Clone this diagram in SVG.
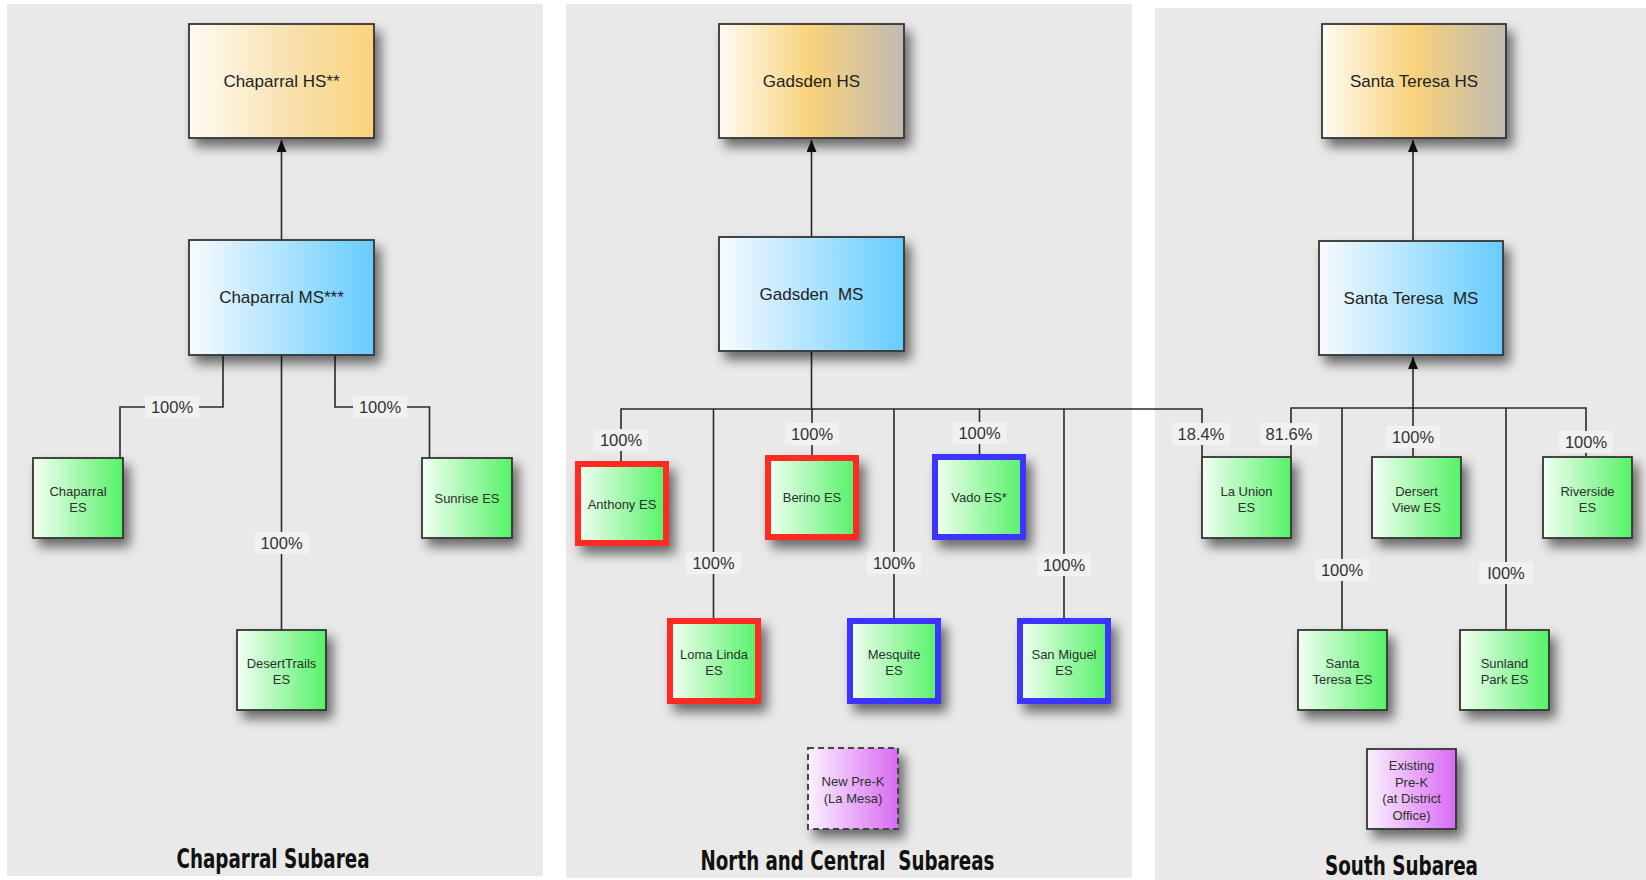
<svg xmlns="http://www.w3.org/2000/svg" width="1646" height="880" viewBox="0 0 1646 880">
<defs>
<style>
.panel{fill:#e9e9e9}
.box{stroke:#333;stroke-width:1.8;filter:url(#sh)}
.red{stroke:#ff2a24;stroke-width:6;filter:url(#sh)}
.blue{stroke:#3d35ff;stroke-width:6;filter:url(#sh)}
.dash{stroke:#444;stroke-width:2;stroke-dasharray:6 4;filter:url(#sh)}
.big{font-family:"Liberation Sans",Arial,sans-serif;font-size:17px;fill:#222;text-anchor:middle;white-space:pre}
.sm{font-family:"Liberation Sans",Arial,sans-serif;font-size:13px;fill:#2a332a;text-anchor:middle;white-space:pre}
.lbl{font-family:"Liberation Sans",Arial,sans-serif;font-size:16.5px;fill:#333;text-anchor:middle}
.lbg{fill:#f1f1f1}
.ttl{font-family:"Liberation Sans Narrow","DejaVu Sans Condensed","Liberation Sans",sans-serif;font-weight:bold;font-size:26px;fill:#111;text-anchor:middle;white-space:pre}
.con{fill:none;stroke:#2a2a2a;stroke-width:1.6}
</style>
<filter id="sh" x="-30%" y="-30%" width="170%" height="170%">
<feDropShadow dx="6" dy="8" stdDeviation="6" flood-color="#000" flood-opacity="0.55"/>
</filter>
<linearGradient id="hsA" x1="0" y1="0" x2="1" y2="0">
<stop offset="0" stop-color="#fffbf4"/><stop offset="0.5" stop-color="#f8e3b4"/><stop offset="1" stop-color="#fbd37c"/>
</linearGradient>
<linearGradient id="hsB" x1="0" y1="0" x2="1" y2="0">
<stop offset="0" stop-color="#fffbf4"/><stop offset="0.5" stop-color="#f9d27a"/><stop offset="1" stop-color="#bfbab2"/>
</linearGradient>
<linearGradient id="ms" x1="0" y1="0" x2="1" y2="0">
<stop offset="0" stop-color="#f8fbff"/><stop offset="1" stop-color="#66ccff"/>
</linearGradient>
<linearGradient id="es" x1="0" y1="0" x2="1" y2="0">
<stop offset="0" stop-color="#f3fff3"/><stop offset="1" stop-color="#55f268"/>
</linearGradient>
<linearGradient id="pk" x1="0" y1="0" x2="1" y2="0">
<stop offset="0" stop-color="#fbf1ff"/><stop offset="1" stop-color="#d96af2"/>
</linearGradient>
<marker id="arr" viewBox="0 0 12 10" refX="12" refY="5" markerWidth="12" markerHeight="10" orient="auto" markerUnits="userSpaceOnUse">
<path d="M0,0 L12,5 L0,10 z" fill="#111"/>
</marker>
</defs>
<rect width="1646" height="880" fill="#fff"/>
<g id="panels">
<rect class="panel" x="7" y="4" width="536" height="872"/>
<rect class="panel" x="566" y="4" width="566" height="874"/>
<rect class="panel" x="1155" y="8" width="491" height="872"/>
</g>
<g id="connectors">
<path class="con" d="M281.5,240 V140" marker-end="url(#arr)"/>
<path class="con" d="M223,355 V407 H120 V458"/>
<path class="con" d="M335,355 V407 H429.5 V458"/>
<path class="con" d="M281.5,355 V630"/>
<path class="con" d="M811.5,237 V140" marker-end="url(#arr)"/>
<path class="con" d="M811.5,351 V409"/>
<path class="con" d="M621,461 V409 H1202 V457"/>
<path class="con" d="M713.5,409 V618"/>
<path class="con" d="M812,409 V455"/>
<path class="con" d="M894,409 V618"/>
<path class="con" d="M979.5,409 V454"/>
<path class="con" d="M1064,409 V618"/>
<path class="con" d="M1413,241 V140" marker-end="url(#arr)"/>
<path class="con" d="M1413,457 V357" marker-end="url(#arr)"/>
<path class="con" d="M1291,457 V408 H1586 V457"/>
<path class="con" d="M1342,408 V630"/>
<path class="con" d="M1506,408 V630"/>
<g id="labels">
<rect class="lbg" x="145" y="396" width="54" height="22"/><text class="lbl" x="172" y="413">100%</text>
<rect class="lbg" x="353" y="396" width="54" height="22"/><text class="lbl" x="380" y="413">100%</text>
<rect class="lbg" x="254.5" y="532" width="54" height="22"/><text class="lbl" x="281.5" y="549">100%</text>
<rect class="lbg" x="594" y="429" width="54" height="22"/><text class="lbl" x="621" y="446">100%</text>
<rect class="lbg" x="785" y="423" width="54" height="22"/><text class="lbl" x="812" y="440">100%</text>
<rect class="lbg" x="952.5" y="422" width="54" height="22"/><text class="lbl" x="979.5" y="439">100%</text>
<rect class="lbg" x="686.5" y="552" width="54" height="22"/><text class="lbl" x="713.5" y="569">100%</text>
<rect class="lbg" x="867" y="552" width="54" height="22"/><text class="lbl" x="894" y="569">100%</text>
<rect class="lbg" x="1037" y="554" width="54" height="22"/><text class="lbl" x="1064" y="571">100%</text>
<rect class="lbg" x="1172" y="423" width="58" height="22"/><text class="lbl" x="1201" y="440">18.4%</text>
<rect class="lbg" x="1260" y="423" width="58" height="22"/><text class="lbl" x="1289" y="440">81.6%</text>
<rect class="lbg" x="1386" y="426" width="54" height="22"/><text class="lbl" x="1413" y="443">100%</text>
<rect class="lbg" x="1559" y="431" width="54" height="22"/><text class="lbl" x="1586" y="448">100%</text>
<rect class="lbg" x="1315" y="559" width="54" height="22"/><text class="lbl" x="1342" y="576">100%</text>
<rect class="lbg" x="1479" y="562" width="54" height="22"/><text class="lbl" x="1506" y="579">I00%</text>
</g>
</g>
<g id="chaparral-hs"><rect class="box" x="189" y="24" width="185" height="114" fill="url(#hsA)"/><text class="big" x="281.5" y="87">Chaparral HS**</text></g>
<g id="chaparral-ms"><rect class="box" x="189" y="240" width="185" height="115" fill="url(#ms)"/><text class="big" x="281.5" y="303">Chaparral MS***</text></g>
<g id="chaparral-es"><rect class="box" x="33" y="458" width="90" height="80" fill="url(#es)"/><text class="sm" x="78" y="495.5">Chaparral</text><text class="sm" x="78" y="511.5">ES</text></g>
<g id="sunrise-es"><rect class="box" x="422" y="458" width="90" height="80" fill="url(#es)"/><text class="sm" x="467" y="503">Sunrise ES</text></g>
<g id="deserttrails-es"><rect class="box" x="237" y="630" width="89" height="80" fill="url(#es)"/><text class="sm" x="281.5" y="668">DesertTrails</text><text class="sm" x="281.5" y="684">ES</text></g>
<g id="gadsden-hs"><rect class="box" x="719" y="24" width="185" height="114" fill="url(#hsB)"/><text class="big" x="811.5" y="87">Gadsden HS</text></g>
<g id="gadsden-ms"><rect class="box" x="719" y="237" width="185" height="114" fill="url(#ms)"/><text class="big" x="811.5" y="300">Gadsden  MS</text></g>
<g id="anthony-es"><rect class="red" x="578" y="464" width="88" height="79" fill="url(#es)"/><text class="sm" x="622" y="508.5">Anthony ES</text></g>
<g id="berino-es"><rect class="red" x="768" y="458" width="88" height="79" fill="url(#es)"/><text class="sm" x="812" y="502">Berino ES</text></g>
<g id="vado-es"><rect class="blue" x="935" y="457" width="88" height="80" fill="url(#es)"/><text class="sm" x="979" y="501.5">Vado ES*</text></g>
<g id="lomalinda-es"><rect class="red" x="670" y="621" width="88" height="80" fill="url(#es)"/><text class="sm" x="714" y="659">Loma Linda</text><text class="sm" x="714" y="675">ES</text></g>
<g id="mesquite-es"><rect class="blue" x="850" y="621" width="88" height="80" fill="url(#es)"/><text class="sm" x="894" y="659">Mesquite</text><text class="sm" x="894" y="675">ES</text></g>
<g id="sanmiguel-es"><rect class="blue" x="1020" y="621" width="88" height="80" fill="url(#es)"/><text class="sm" x="1064" y="659">San Miguel</text><text class="sm" x="1064" y="675">ES</text></g>
<g id="new-prek"><rect class="dash" x="808" y="748" width="90" height="81" fill="url(#pk)"/><text class="sm" x="853" y="786">New Pre-K</text><text class="sm" x="853" y="803">(La Mesa)</text></g>
<g id="santateresa-hs"><rect class="box" x="1322" y="24" width="184" height="114" fill="url(#hsB)"/><text class="big" x="1414" y="87">Santa Teresa HS</text></g>
<g id="santateresa-ms"><rect class="box" x="1319" y="241" width="184" height="114" fill="url(#ms)"/><text class="big" x="1411" y="304">Santa Teresa  MS</text></g>
<g id="launion-es"><rect class="box" x="1202" y="457" width="89" height="81" fill="url(#es)"/><text class="sm" x="1246.5" y="495.5">La Union</text><text class="sm" x="1246.5" y="511.5">ES</text></g>
<g id="dersertview-es"><rect class="box" x="1372" y="457" width="89" height="81" fill="url(#es)"/><text class="sm" x="1416.5" y="495.5">Dersert</text><text class="sm" x="1416.5" y="511.5">View ES</text></g>
<g id="riverside-es"><rect class="box" x="1543" y="457" width="89" height="81" fill="url(#es)"/><text class="sm" x="1587.5" y="495.5">Riverside</text><text class="sm" x="1587.5" y="511.5">ES</text></g>
<g id="santateresa-es"><rect class="box" x="1298" y="630" width="89" height="80" fill="url(#es)"/><text class="sm" x="1342.5" y="668">Santa</text><text class="sm" x="1342.5" y="684">Teresa ES</text></g>
<g id="sunlandpark-es"><rect class="box" x="1460" y="630" width="89" height="80" fill="url(#es)"/><text class="sm" x="1504.5" y="668">Sunland</text><text class="sm" x="1504.5" y="684">Park ES</text></g>
<g id="existing-prek"><rect class="box" x="1367" y="749" width="89" height="80" fill="url(#pk)"/><text class="sm" x="1411.5" y="770">Existing</text><text class="sm" x="1411.5" y="786.5">Pre-K</text><text class="sm" x="1411.5" y="803">(at District</text><text class="sm" x="1411.5" y="819.5">Office)</text></g>
<g id="titles">
<text class="ttl" x="273" y="868" textLength="193" lengthAdjust="spacingAndGlyphs">Chaparral Subarea</text>
<text class="ttl" x="847.5" y="870" textLength="294" lengthAdjust="spacingAndGlyphs">North and Central  Subareas</text>
<text class="ttl" x="1401.5" y="875" textLength="153" lengthAdjust="spacingAndGlyphs">South Subarea</text>
</g>
</svg>
